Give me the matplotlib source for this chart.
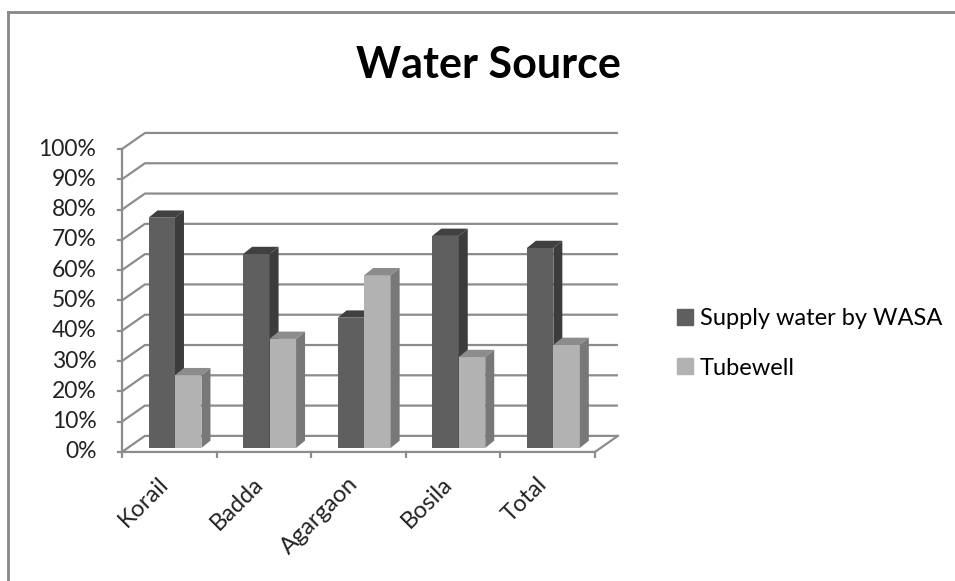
import matplotlib
matplotlib.use("Agg")
import matplotlib.pyplot as plt
from matplotlib.patches import Polygon
from matplotlib.lines import Line2D

# data
categories = ["Korail", "Badda", "Agargaon", "Bosila", "Total"]
series_names = ["Supply water by WASA", "Tubewell"]
wasa = [76, 64, 43, 70, 66]
tubewell = [24, 36, 57, 30, 34]
y_ticks = list(range(0, 101, 10))
y_tick_labels = ["%d%%" % v for v in y_ticks]

plt.rcParams["font.family"] = ["Lato", "DejaVu Sans"]

# colours for front / top / side faces
face_cols = {
    "wasa": ("#5f5f5f", "#404040", "#3c3c3c"),
    "tube": ("#b2b2b2", "#8c8c8c", "#787878"),
}
grid_col = "#8c8c8c"

fig = plt.figure(figsize=(9.55, 5.81), dpi=100)
ax = fig.add_axes([0.1178, 0.2117, 0.5398, 0.5683])
ax.set_xlim(-0.1, 5.35)
ax.set_ylim(-2, 107)
ax.axis("off")

# depth of the plot box (x in category units, y in percent)
DX, DY = 0.243, 5.3
n = len(categories)

# back wall gridlines + left wall diagonals
for v in y_ticks:
    ax.plot([0, DX, n + DX], [v, v + DY, v + DY], color=grid_col, lw=1.6,
            solid_capstyle="butt", zorder=1)
    ax.plot([-0.045, 0], [v, v], color=grid_col, lw=1.6, zorder=1)
# front value axis
ax.plot([0, 0], [0, 100], color=grid_col, lw=1.6, zorder=1)
# floor front edge and right edge
ax.plot([0, n, n + DX], [0, 0, DY], color=grid_col, lw=1.6, zorder=1)
# category ticks
for i in range(n + 1):
    ax.plot([i, i], [0, -1.6], color=grid_col, lw=1.6, zorder=1)

# bars
bar_w = 0.28
depth_frac = 0.25
bx, by = DX * depth_frac, DY * depth_frac
sdx, sdy = 0.095, 2.4


def draw_bar(x0, h, cols, z):
    front, top, side = cols
    x0 = x0 + bx
    y0 = by
    y1 = by + h
    ax.add_patch(Polygon([(x0, y0), (x0 + bar_w, y0), (x0 + bar_w, y1), (x0, y1)],
                         closed=True, fc=front, ec="none", zorder=z))
    ax.add_patch(Polygon([(x0, y1), (x0 + bar_w, y1), (x0 + bar_w + sdx, y1 + sdy),
                          (x0 + sdx, y1 + sdy)], closed=True, fc=top, ec="none", zorder=z))
    ax.add_patch(Polygon([(x0 + bar_w, y0), (x0 + bar_w + sdx, y0 + sdy),
                          (x0 + bar_w + sdx, y1 + sdy), (x0 + bar_w, y1)],
                         closed=True, fc=side, ec="none", zorder=z))


for i in range(n):
    start = i + (1 - 2 * bar_w) / 2
    draw_bar(start, wasa[i], face_cols["wasa"], 3 + 2 * i)
    draw_bar(start + bar_w, tubewell[i], face_cols["tube"], 4 + 2 * i)

# value labels
for v, lab in zip(y_ticks, y_tick_labels):
    ax.text(-0.27, v, lab, ha="right", va="center", fontsize=16.5, color="#222222")

# category labels
for i, c in enumerate(categories):
    ax.text(i + 0.38, -7, c, ha="right", va="top", rotation=45,
            rotation_mode="anchor", fontsize=17, color="#222222")

fig.text(0.511, 0.888, "Water Source", ha="center", va="center",
         fontsize=31, fontweight="bold", color="black")

handles = [Line2D([], [], marker="s", ls="none", ms=12, color=face_cols["wasa"][0]),
           Line2D([], [], marker="s", ls="none", ms=12, color=face_cols["tube"][0])]
fig.legend(handles, series_names, loc="center left", bbox_to_anchor=(0.686, 0.409),
           frameon=False, fontsize=17, handlelength=0.7, handletextpad=0.3,
           labelspacing=1.2)

# chart area border (top and left edges)
fig.add_artist(Line2D([0.0089, 1.0], [0.979, 0.979], color="#888888", lw=2,
                      transform=fig.transFigure))
fig.add_artist(Line2D([0.0089, 0.0089], [0.0, 0.979], color="#888888", lw=2,
                      transform=fig.transFigure))

fig.savefig("out.png", dpi=100)
